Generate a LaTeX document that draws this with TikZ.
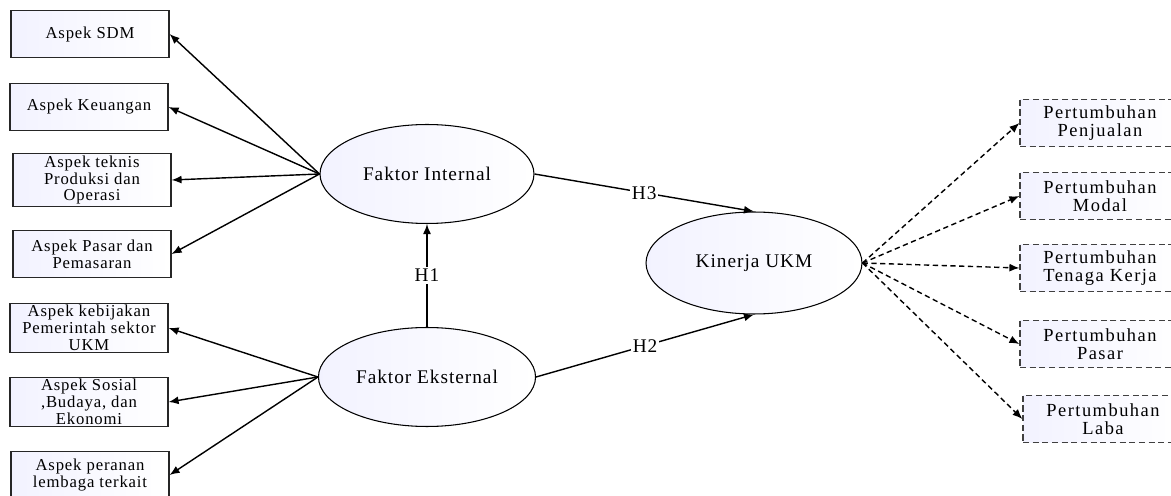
\documentclass[tikz,border=0pt]{standalone}
\usepackage{fontspec}
\setmainfont{Liberation Serif}
\newfontfamily\kecil{Liberation Serif}[LetterSpace=5]
\newfontfamily\lebar{Liberation Serif}[LetterSpace=8]
\usetikzlibrary{arrows.meta,shapes.geometric}

\tikzset{
  aspek/.style={draw=black!85,line width=0.7pt,left color=blue!5!white,right color=white,
    minimum width=3.16cm,minimum height=0.94cm,align=center,inner sep=1pt,
    font=\kecil\fontsize{9.5}{9.6}\selectfont},
  hasil/.style={aspek,draw=black!75,dash pattern=on 3.5pt off 2pt,minimum width=3.2cm,
    font=\lebar\fontsize{10.5}{10.4}\selectfont},
  faktor/.style={ellipse,draw,line width=0.6pt,left color=blue!5!white,right color=white,
    minimum width=4.28cm,minimum height=1.98cm,font=\kecil\fontsize{11}{12}\selectfont},
  panah/.style={-{Latex[length=0.2cm,width=0.16cm]},line width=0.8pt},
  panahputus/.style={panah,dash pattern=on 3pt off 2pt},
  hipotesis/.style={fill=white,inner sep=1pt,font=\kecil\fontsize{11}{12}\selectfont}
}

\begin{document}
\begin{tikzpicture}[x=0.02cm,y=-0.02cm]
	\useasboundingbox (0,0) rectangle (1171,496);
	% aspek di kiri
	\node[aspek] (sdm) at (90,34) {Aspek SDM};
	\node[aspek] (keu) at (89,107) {Aspek Keuangan};
	\node[aspek] (tek) at (92,180) {Aspek teknis\\Produksi dan\\Operasi};
	\node[aspek] (psr) at (92,254) {Aspek Pasar dan\\Pemasaran};
	\node[aspek] (kbj) at (89,328) {Aspek kebijakan\\Pemerintah sektor\\UKM};
	\node[aspek] (sos) at (89,402) {Aspek Sosial\\,Budaya, dan\\Ekonomi};
	\node[aspek] (prn) at (90,475) {Aspek peranan\\lembaga terkait};
	% faktor dan kinerja
	\node[faktor] (fi) at (427,174) {Faktor Internal};
	\node[faktor] (fe) at (427,377) {Faktor Eksternal};
	\node[faktor,minimum width=4.32cm,minimum height=2.04cm] (ku) at (754,263) {Kinerja UKM};
	% pertumbuhan di kanan
	\node[hasil] (pj) at (1100,123) {Pertumbuhan\\Penjualan};
	\node[hasil] (md) at (1100,196) {Pertumbuhan\\Modal};
	\node[hasil] (tk) at (1100,268) {Pertumbuhan\\Tenaga Kerja};
	\node[hasil] (ps) at (1100,344) {Pertumbuhan\\Pasar};
	\node[hasil] (lb) at (1103,419) {Pertumbuhan\\Laba};
	% panah
	\foreach \n in {sdm,keu,tek,psr} \draw[panah] (fi.west) -- (\n.east);
	\foreach \n in {kbj,sos,prn} \draw[panah] (fe.west) -- (\n.east);
	\foreach \n in {pj,md,tk,ps,lb} \draw[panahputus] (ku.east) -- (\n.west);
	\draw[panah] (fe.north) -- node[hipotesis]{H1} (fi.south);
	\draw[panah] (fi.east) -- node[hipotesis]{H3} (ku.north);
	\draw[panah] (fe.east) -- node[hipotesis]{H2} (ku.south);
\end{tikzpicture}
\end{document}
